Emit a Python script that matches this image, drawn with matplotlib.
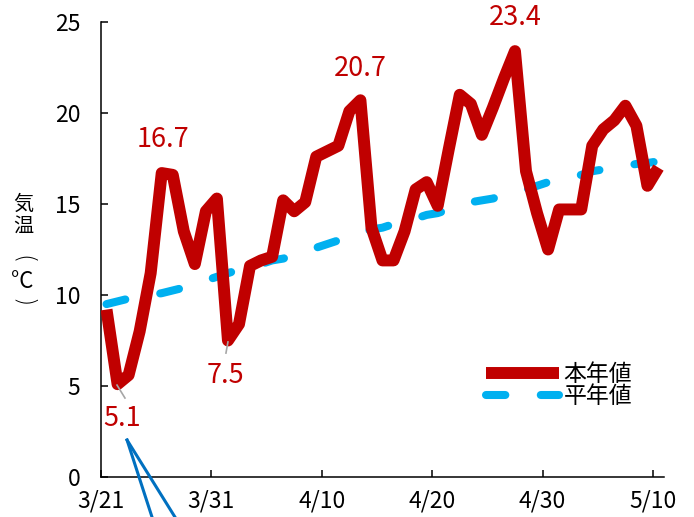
import matplotlib
matplotlib.use("Agg")
import matplotlib.pyplot as plt
import numpy as np

plt.rcParams['font.family'] = ['Noto Sans CJK JP', 'DejaVu Sans']

# ---- data ----
tick_labels = ["3/21", "3/31", "4/10", "4/20", "4/30", "5/10"]
this_year = [9.2, 5.1, 5.6, 8.0, 11.2, 16.7, 16.6, 13.5, 11.7, 14.6,
             15.3, 7.5, 8.4, 11.6, 11.9, 12.1, 15.2, 14.6, 15.1, 17.6,
             17.9, 18.2, 20.1, 20.7, 13.7, 11.9, 11.9, 13.5, 15.8, 16.2,
             14.9, 18.0, 21.0, 20.5, 18.8, 20.3, 21.9, 23.4, 16.8, 14.5,
             12.5, 14.7, 14.7, 14.7, 18.2, 19.1, 19.6, 20.4, 19.3, 16.0,
             17.0]
normal = [9.5, 9.65, 9.8, 9.9, 10.0, 10.1, 10.25, 10.4, 10.6, 10.8,
          11.0, 11.2, 11.4, 11.5, 11.7, 11.9, 12.0, 12.2, 12.4, 12.6,
          12.8, 13.0, 13.1, 13.4, 13.6, 13.7, 13.9, 14.1, 14.2, 14.4,
          14.5, 14.7, 14.9, 15.1, 15.2, 15.3, 15.5, 15.7, 15.8, 16.0,
          16.2, 16.4, 16.5, 16.6, 16.8, 16.9, 17.0, 17.1, 17.2, 17.25,
          17.35]
series_names = ["本年値", "平年値"]
# annotated points: (index, value, offset in points)
annotations = [(1, 5.1, (3, -24.5)), (5, 16.7, (1, 24)), (11, 7.5, (-2, -25)),
               (23, 20.7, (0, 23)), (37, 23.4, (0, 24.5))]

RED = "#C00000"
BLUE = "#00B0F0"

fig = plt.figure(figsize=(6.94, 5.17), dpi=100)
ax = fig.add_axes([101/694, 40/517, 563/694, 455/517])

n = len(this_year)
x = np.arange(n) + 0.5

blue_lw = 5.8
l_norm, = ax.plot(x, normal, color=BLUE, lw=blue_lw, dashes=(2.4, 4.4),
                  dash_capstyle='round', zorder=2)
l_this, = ax.plot(x, this_year, color=RED, lw=8.6, solid_joinstyle='round',
                  solid_capstyle='butt', zorder=3)

for idx, val, off in annotations:
    ax.annotate(f"{val}", xy=(x[idx], val), xytext=off, textcoords='offset points',
                ha='center', va='center', fontsize=19.5, color=RED, zorder=5)

# grey leader lines
ax.plot([1.45, 2.17], [5.05, 4.34], color='#A6A6A6', lw=1.2, zorder=4)
ax.plot([11.5, 11.32], [7.42, 6.81], color='#A6A6A6', lw=1.2, zorder=4)

# stray blue callout lines
ax.plot([2.36, 4.62], [2.03, -2.2], color='#0070C0', lw=2.2, clip_on=False, zorder=4)
ax.plot([2.36, 6.7], [2.03, -2.2], color='#0070C0', lw=2.2, clip_on=False, zorder=4)

ax.set_xlim(0, 51)
ax.set_ylim(0, 25)
ax.set_xticks(np.arange(0, 51, 10))
ax.set_xticklabels(tick_labels)
ax.set_yticks(np.arange(0, 26, 5))

for s in ['top', 'right']:
    ax.spines[s].set_visible(False)
for s in ['left', 'bottom']:
    ax.spines[s].set_linewidth(1.1)
    ax.spines[s].set_color('black')

ax.tick_params(axis='y', direction='in', length=5, width=1.1, labelsize=16.5, pad=15)
ax.tick_params(axis='x', direction='in', length=5, width=1.1, labelsize=16.5, pad=9)

# vertical y label (upright characters, brackets turned)
fig.text(23/694, 1 - 204/517, "気", ha='center', va='center', fontsize=14.5)
fig.text(23/694, 1 - 226/517, "温", ha='center', va='center', fontsize=14.5)
fig.text(23/694, 1 - 260/517, "(", ha='center', va='center', fontsize=17,
         family='DejaVu Sans', fontweight='light', rotation=-90)
fig.text(22/694, 1 - 282/517, "°C", ha='center', va='center', fontsize=16)
fig.text(23/694, 1 - 303/517, ")", ha='center', va='center', fontsize=17,
         family='DejaVu Sans', fontweight='light', rotation=-90)

ax.legend([l_this, l_norm], series_names,
          loc='upper left', bbox_to_anchor=(0.683, 0.25), frameon=False,
          fontsize=16.5, handlelength=3.2, handletextpad=0.2,
          labelspacing=-0.05, borderpad=0, borderaxespad=0)

fig.savefig("out.png", dpi=100)
